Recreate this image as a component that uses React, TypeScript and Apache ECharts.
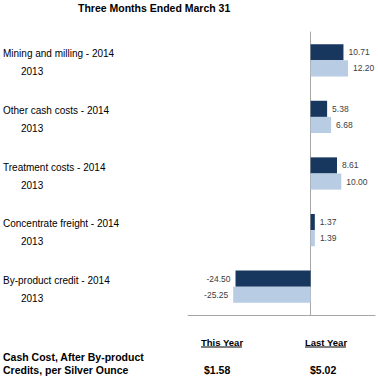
import React, { useEffect, useRef } from "react";
import * as echarts from "echarts";

const categories = ["Mining and milling", "Other cash costs", "Treatment costs", "Concentrate freight", "By-product credit"];
const currentYear = "2014";
const priorYear = "2013";
const values2014 = [10.71, 5.38, 8.61, 1.37, -24.5];
const values2013 = [12.2, 6.68, 10.0, 1.39, -25.25];
const title = "Three Months Ended March 31";
const summaryLabel = ["Cash Cost, After By-product", "Credits, per Silver Ounce"];
const summaryHeads = ["This Year", "Last Year"];
const summaryValues = ["$1.58", "$5.02"];

const DARK = "#17375e";
const LIGHT = "#b8cce4";
const AXIS = "#a6a6a6";
const FONT = "'Liberation Sans', Arial, sans-serif";

export default function App() {
  const ref = useRef<HTMLDivElement>(null);
  useEffect(() => {
    if (!ref.current) return;
    const chart = echarts.init(ref.current, null, { renderer: "svg" });
    const mk = (vals: number[]) =>
      vals.map((v) => ({
        value: v,
        label: { position: v < 0 ? "left" : "right", formatter: v.toFixed(2) },
      }));
    const barLabel = {
      show: true,
      distance: 5,
      fontSize: 8.5,
      color: "#404040",
      fontFamily: FONT,
    };
    chart.setOption({
      animation: false,
      backgroundColor: "#fff",
      title: {
        text: title,
        left: 78,
        top: 2,
        padding: 0,
        textStyle: { fontSize: 10.5, fontWeight: "bold", color: "#000", fontFamily: FONT },
      },
      grid: { left: 188, right: 3, top: 32, bottom: 63, containLabel: false, outerBoundsMode: "none" },
      xAxis: {
        type: "value",
        min: -40,
        max: 21,
        axisLine: { show: true, lineStyle: { color: AXIS, width: 1 }, onZero: false },
        axisTick: { show: false },
        axisLabel: { show: false },
        splitLine: { show: false },
      },
      yAxis: {
        type: "category",
        data: categories,
        inverse: true,
        axisLine: { show: true, lineStyle: { color: AXIS, width: 1 } },
        axisTick: { show: false },
        axisLabel: {
          align: "left",
          margin: 185,
          padding: [5, 0, 0, 0],
          formatter: (c: string) => `{a|${c} - ${currentYear}}\n{b|${priorYear}}`,
          rich: {
            a: { fontSize: 10, color: "#000", fontFamily: FONT, lineHeight: 18 },
            b: { fontSize: 10, color: "#000", fontFamily: FONT, lineHeight: 18, padding: [0, 0, 0, 18] },
          },
        },
      },
      series: [
        {
          name: currentYear,
          type: "bar",
          data: mk(values2014),
          itemStyle: { color: DARK },
          barGap: "0%",
          barCategoryGap: "43%",
          label: barLabel,
        },
        {
          name: priorYear,
          type: "bar",
          data: mk(values2013),
          itemStyle: { color: LIGHT },
          barGap: "0%",
          barCategoryGap: "43%",
          label: barLabel,
        },
      ],
      graphic: [
        {
          type: "text",
          left: 201,
          top: 337,
          style: { text: summaryHeads[0], font: `bold 9.5px ${FONT}`, fill: "#000" },
        },
        {
          type: "text",
          left: 305,
          top: 337,
          style: { text: summaryHeads[1], font: `bold 9.5px ${FONT}`, fill: "#000" },
        },
        { type: "line", shape: { x1: 201, y1: 347, x2: 242, y2: 347 }, style: { stroke: "#000", lineWidth: 1 } },
        { type: "line", shape: { x1: 305, y1: 347, x2: 346, y2: 347 }, style: { stroke: "#000", lineWidth: 1 } },
        {
          type: "text",
          left: 3,
          top: 351,
          style: { text: summaryLabel[0], font: `bold 10.5px ${FONT}`, fill: "#000" },
        },
        {
          type: "text",
          left: 3,
          top: 364,
          style: { text: summaryLabel[1], font: `bold 10.5px ${FONT}`, fill: "#000" },
        },
        {
          type: "text",
          left: 204,
          top: 364,
          style: { text: summaryValues[0], font: `bold 10.5px ${FONT}`, fill: "#000" },
        },
        {
          type: "text",
          left: 310,
          top: 364,
          style: { text: summaryValues[1], font: `bold 10.5px ${FONT}`, fill: "#000" },
        },
      ],
    });
    return () => chart.dispose();
  }, []);
  return <div ref={ref} style={{ width: 378, height: 378, position: "absolute", left: 0, top: 0 }} />;
}
